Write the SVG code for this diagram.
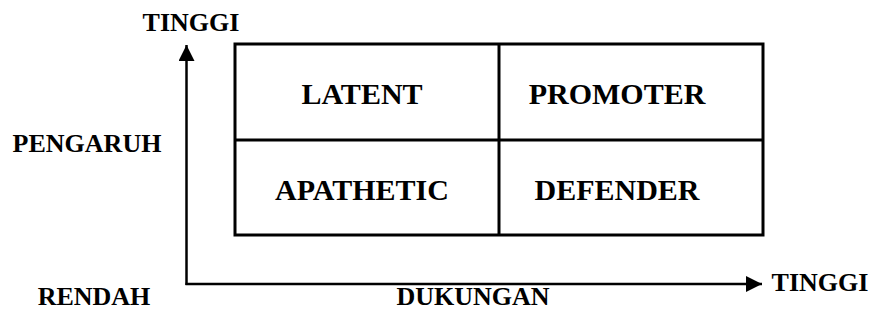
<svg xmlns="http://www.w3.org/2000/svg" width="874" height="325" viewBox="0 0 874 325">
<style>
text{font-family:"Liberation Serif","Times New Roman",serif;font-weight:bold;fill:#000;text-anchor:middle}
.cell{font-size:30px}
.lbl{font-size:26px}
.ln{stroke:#000;stroke-width:3;fill:none}
.ax{stroke:#000;stroke-width:2.5;fill:none}
</style>
<defs>
<marker id="ah" viewBox="0 0 10 10" refX="10" refY="5" markerWidth="6.4" markerHeight="6.4" markerUnits="strokeWidth" orient="auto">
<path d="M0,0 L10,5 L0,10 z" fill="#000"/>
</marker>
</defs>
<g id="matrix">
<rect class="ln" x="235" y="44" width="528" height="191"/>
<line class="ln" x1="499" y1="44" x2="499" y2="235"/>
<line class="ln" x1="235" y1="140" x2="763" y2="140"/>
</g>
<g id="latent"><text class="cell" x="362" y="104">LATENT</text></g>
<g id="promoter"><text class="cell" x="617" y="104">PROMOTER</text></g>
<g id="apathetic"><text class="cell" x="362" y="200">APATHETIC</text></g>
<g id="defender"><text class="cell" x="617" y="200">DEFENDER</text></g>
<g id="connectors">
<line class="ax" x1="186.5" y1="285" x2="186.5" y2="45" marker-end="url(#ah)"/>
<line class="ax" x1="185.5" y1="284" x2="762" y2="284" marker-end="url(#ah)"/>
</g>
<g id="labels">
<text class="lbl" x="191" y="31">TINGGI</text>
<text class="lbl" x="87" y="152">PENGARUH</text>
<text class="lbl" x="94" y="305">RENDAH</text>
<text class="lbl" x="473" y="305">DUKUNGAN</text>
<text class="lbl" x="820" y="291">TINGGI</text>
</g>
</svg>
